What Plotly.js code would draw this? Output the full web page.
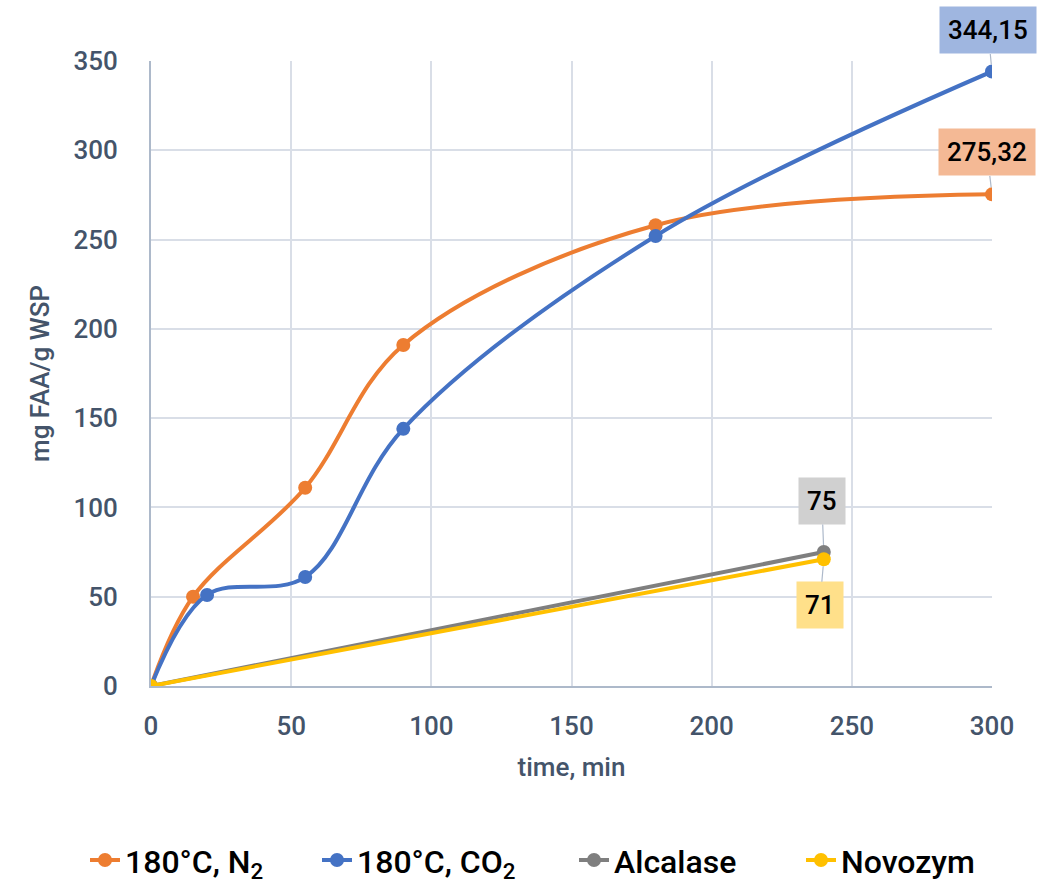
<!DOCTYPE html>
<html><head><meta charset="utf-8">
<script src="https://cdn.plot.ly/plotly-3.0.1.min.js"></script>
<style>body{margin:0;background:#fff}#c{width:1058px;height:885px}</style>
</head><body><div id="c"></div>
<script>
const n2X = [0, 15, 55, 90, 180, 300];
const n2Y = [0, 50, 111, 191, 258, 275.32];
const co2X = [0, 20, 55, 90, 180, 300];
const co2Y = [0, 51, 61, 144, 252, 344.15];
const alcX = [0, 240];
const alcY = [0, 75];
const novX = [0, 240];
const novY = [0, 71];
const names = ['180°C, N<sub>2</sub>', '180°C, CO<sub>2</sub>', 'Alcalase', 'Novozym'];
const labels = ['275,32', '344,15', '75', '71'];

const font = 'Roboto, "Noto Sans", sans-serif';
const colors = ['#ED7D31', '#4472C4', '#7F7F7F', '#FFC000'];
const legendIds = ['legend', 'legend2', 'legend3', 'legend4'];
function tr(x, y, i, spline) {
  return {x: x, y: y, name: names[i], type: 'scatter', mode: 'lines+markers', legend: legendIds[i],
    line: {color: colors[i], width: 4, shape: spline ? 'spline' : 'linear', smoothing: 1},
    marker: {color: colors[i], size: 14}};
}
const data = [tr(n2X, n2Y, 0, true), tr(co2X, co2Y, 1, true), tr(alcX, alcY, 2, false), tr(novX, novY, 3, false)];

function ann(x, y, text, bg, ax, ay) {
  return {x: x, y: y, text: text, showarrow: true, arrowhead: 0, arrowwidth: 1.2, arrowcolor: '#ADB9CA',
    ax: ax, ay: ay, bgcolor: bg, borderpad: 8, font: {family: font, size: 26, color: '#000', weight: 500}, standoff: 7};
}
function leg(px) {
  return {orientation: 'h', x: px / 1058, xref: 'container', xanchor: 'left', y: 0.028, yref: 'container', yanchor: 'middle',
    font: {family: font, size: 32, color: '#000', weight: 500}, bgcolor: 'rgba(0,0,0,0)'};
}
const tf = {family: font, size: 26, color: '#44546A', weight: 500};
const layout = {
  width: 1058, height: 885,
  margin: {l: 151, r: 66, t: 61, b: 199, autoexpand: false},
  paper_bgcolor: '#fff', plot_bgcolor: '#fff',
  showlegend: true,
  legend: leg(85), legend2: leg(317), legend3: leg(574), legend4: leg(801),
  xaxis: {range: [0, 300], tickvals: [0, 50, 100, 150, 200, 250, 300], showgrid: true, gridcolor: '#D9DEE7', gridwidth: 1.5,
    showline: true, linecolor: '#ADB9CA', linewidth: 2, zeroline: false, ticks: '',
    tickfont: tf, ticklabelstandoff: 16,
    title: {text: 'time, min', font: tf, standoff: 18}},
  yaxis: {range: [0, 350], tickvals: [0, 50, 100, 150, 200, 250, 300, 350], showgrid: true, gridcolor: '#D9DEE7', gridwidth: 1.5,
    showline: true, linecolor: '#ADB9CA', linewidth: 2, zeroline: false, ticks: '',
    tickfont: tf, ticklabelstandoff: 26,
    title: {text: 'mg FAA/g WSP', font: tf, standoff: 16}},
  annotations: [
    ann(co2X[5], co2Y[5], labels[1], '#9FB6E0', -4, -41),
    ann(n2X[5], n2Y[5], labels[0], '#F4B995', -5, -42),
    ann(alcX[1], alcY[1], labels[2], '#D0D0D0', -2, -51),
    ann(novX[1], novY[1], labels[3], '#FFE08A', -4, 46)
  ]
};
Plotly.newPlot('c', data, layout, {displayModeBar: false});
</script></body></html>
